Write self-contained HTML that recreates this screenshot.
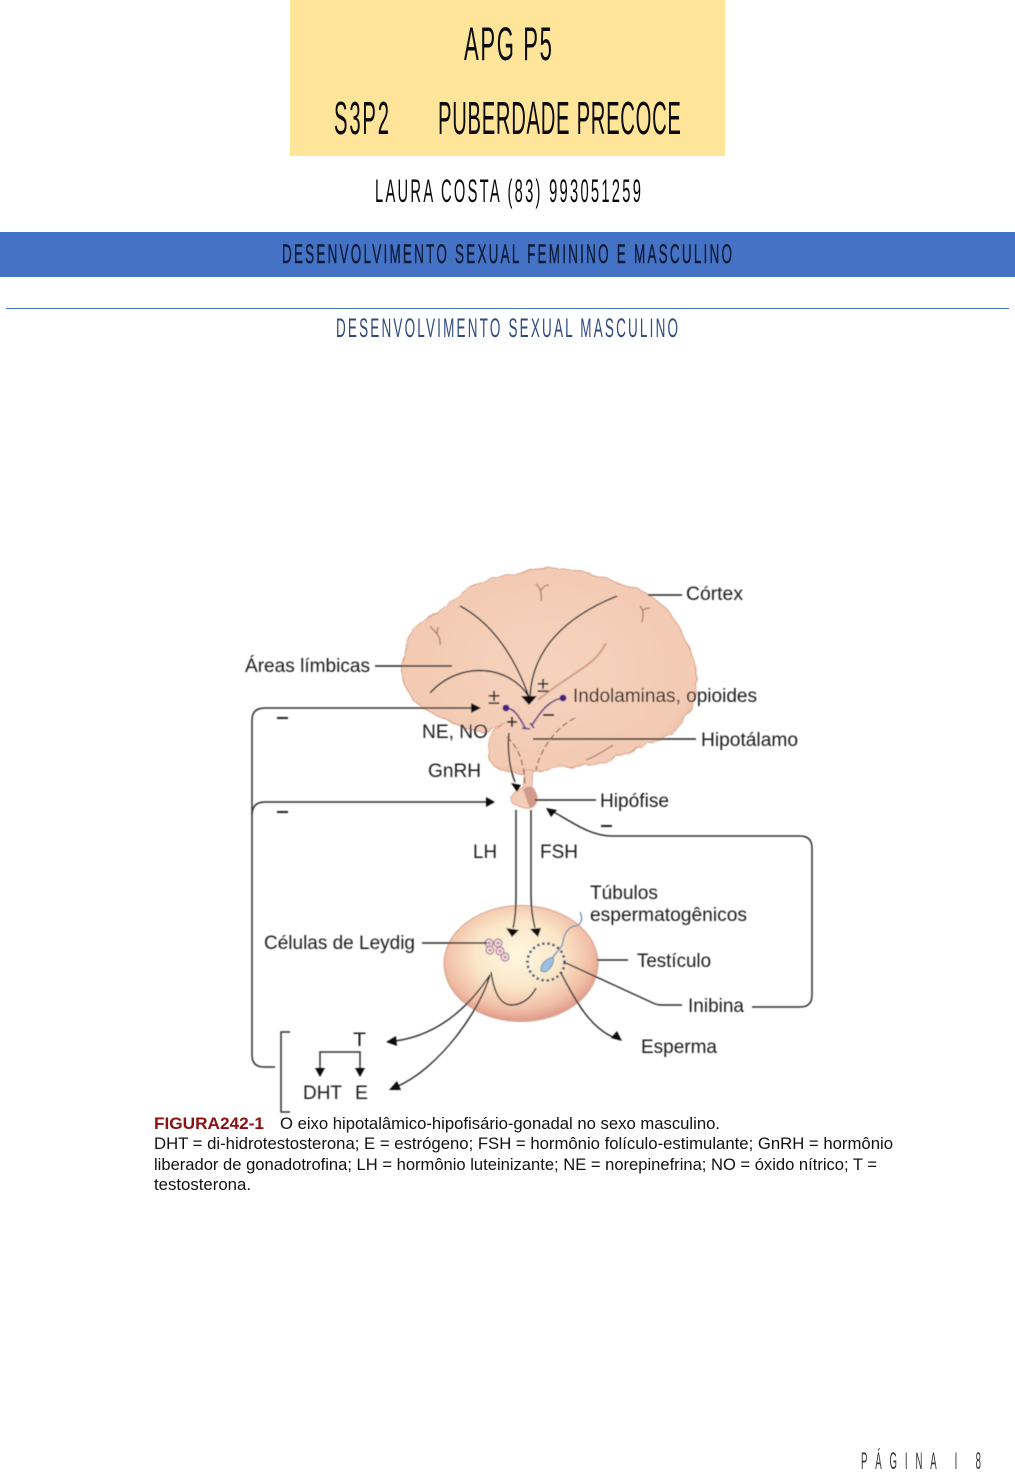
<!DOCTYPE html>
<html><head><meta charset="utf-8"><style>
html,body{margin:0;padding:0;background:#fff}
svg{display:block}
.h{font-family:"Liberation Sans",sans-serif}
.d{font-family:"Liberation Sans",sans-serif;font-size:19px;fill:#1f1f1f}
.c{font-family:"Liberation Sans",sans-serif;font-size:17px;fill:#111}
</style></head><body>
<svg width="1015" height="1474" viewBox="0 0 1015 1474" xmlns="http://www.w3.org/2000/svg">
<defs>
<radialGradient id="br" cx="50%" cy="48%" r="60%"><stop offset="0" stop-color="#f5d3bd"/><stop offset=".82" stop-color="#f3cab3"/><stop offset="1" stop-color="#e3ad96"/></radialGradient>
<radialGradient id="ts" cx="48%" cy="42%" r="56%"><stop offset="0" stop-color="#fff8e0"/><stop offset=".5" stop-color="#fbe6c9"/><stop offset=".85" stop-color="#f0bfa6"/><stop offset="1" stop-color="#e2a08f"/></radialGradient>
<filter id="b"><feGaussianBlur stdDeviation="0.4"/></filter>
<filter id="w" x="-5%" y="-5%" width="110%" height="110%"><feTurbulence type="fractalNoise" baseFrequency="0.09" numOctaves="2" seed="4" result="n"/><feDisplacementMap in="SourceGraphic" in2="n" scale="6"/></filter>
</defs>

<rect x="290" y="0" width="435" height="156" fill="#ffe599"/>
<g class="h" fill="#0b0b0b">
<text transform="translate(464,60) scale(.47,1)" font-size="47" textLength="187" lengthAdjust="spacing">APG P5</text>
<text transform="translate(334,134) scale(.44,1)" font-size="46" textLength="125" lengthAdjust="spacing">S3P2</text>
<text transform="translate(438,134) scale(.44,1)" font-size="46" textLength="552" lengthAdjust="spacing">PUBERDADE PRECOCE</text>
<text transform="translate(375,202) scale(.46,1)" font-size="32" textLength="578" lengthAdjust="spacing">LAURA COSTA (83) 993051259</text>
</g>
<rect x="0" y="232" width="1015" height="45" fill="#4472c4"/>
<text class="h" transform="translate(282,263) scale(.5,1)" font-size="27" fill="#0c1a38" stroke="#0c1a38" stroke-width=".4" textLength="900" lengthAdjust="spacing">DESENVOLVIMENTO SEXUAL FEMININO E MASCULINO</text>
<rect x="6" y="308" width="1003" height="1" fill="#4472c4"/>
<text class="h" transform="translate(336,337) scale(.5,1)" font-size="27" fill="#2f4a80" textLength="684" lengthAdjust="spacing">DESENVOLVIMENTO SEXUAL MASCULINO</text>

<g filter="url(#b)">
<!-- brain -->
<path filter="url(#w)" d="M402 673 C400 660 404 653 406 647 C408 640 410 635 413 630 C420 625 424 620 430 617 C438 612 444 606 451 602 C458 596 464 591 471 587 C482 582 494 578 506 575 C520 571 534 569 547 568 C560 568 571 569 582 572 C594 575 605 578 616 582 C627 585 638 589 647 593 C655 600 662 604 668 610 C674 618 678 625 682 633 C687 642 691 651 694 660 C696 668 697 676 697 683 C696 694 693 704 689 713 C684 721 678 728 671 733 C661 739 651 743 640 747 C631 751 622 755 613 758 C605 761 597 763 589 765 C579 767 568 766 558 767 C549 769 541 771 533 773 L525 775 L513 773 C506 772 500 770 495 767 C490 762 488 756 488 750 C488 745 490 739 492 735 C496 731 500 726 506 723 L489 732 C480 733 472 730 464 727 C453 723 443 718 433 713 C425 710 419 705 413 700 C408 692 404 682 402 673Z" fill="url(#br)" stroke="#d8a088" stroke-width="1"/>
<path d="M525 770 L523 787 C519 789 514 792 511 797 C510 800 512 804 516 805 C520 807 525 809 530 808 C533 808 536 805 537 800 C538 796 536 792 532 787 L533 770Z" fill="#f3cdb7" stroke="#d8a088" stroke-width=".8"/>
<path d="M523 790 C526 795 527 803 530 808 C534 806 537 803 537 799 C537 794 535 789 532 787 C528 786 525 787 523 790Z" fill="#d29a8c"/>
<!-- sulci -->
<g fill="none" stroke="#a87c68" stroke-width="1.3">
<path d="M536 584 C541 588 542 594 541 601 M541 590 C544 586 546 585 549 585 M640 606 C643 609 644 614 642 622 M642 611 C645 608 648 608 650 608"/>
<path d="M430 626 C436 633 441 636 440 645 M437 634 L438 627"/>
</g>
<path d="M606 643 C600 655 592 662 580 670 C566 680 552 688 538 700" fill="none" stroke="#d3a088" stroke-width="2"/>
<path d="M613 745 C604 751 596 756 586 760" fill="none" stroke="#b98b74" stroke-width="1.4"/>

<!-- inner curves -->
<g fill="none" stroke="#222" stroke-width="1.4">
<path d="M460 606 Q505 630 529 697"/>
<path d="M617 596 Q533 630 530 697"/>
<path d="M430 693 C460 660 510 665 529 697"/>
<path d="M375 666 H452"/>
<path d="M648 595 H682"/>
<path d="M533 739 H696"/>
<path d="M535 800 H596"/>
<path d="M509 733 C507 750 510 770 515 782"/>
</g>
<path d="M521 696 L537 696 L529 705Z" fill="#111"/>
<path d="M511 783 L521 785 L517 792 Z" fill="#111"/>
<g fill="none" stroke="#8d6b5c" stroke-width="1.2" stroke-dasharray="6 3">
<path d="M507 737 C516 745 524 758 525 785"/>
<path d="M575 718 C555 728 540 750 536 770"/>
</g>
<!-- purple -->
<g fill="none" stroke="#5d3a86" stroke-width="1.6">
<path d="M506 708 C517 709 520 720 526 729"/>
<path d="M563 698 C548 700 540 713 532 725"/>
<path d="M522 728 L530 729 M530 723 L534 728"/>
</g>
<circle cx="506" cy="708" r="3.4" fill="#46237c"/><circle cx="563" cy="698" r="3.4" fill="#46237c"/>

<!-- signs -->
<g fill="#222">
<text x="488" y="704" font-family="Liberation Sans,sans-serif" font-size="22">±</text>
<text x="537" y="692" font-family="Liberation Sans,sans-serif" font-size="22">±</text>
<rect x="543" y="714" width="11" height="2"/>
<rect x="277" y="717" width="11" height="2"/>
<rect x="277" y="811" width="11" height="2"/>
<rect x="601" y="825" width="11" height="2"/>
<rect x="507" y="721" width="10" height="1.8"/><rect x="511" y="717" width="1.8" height="10"/>
</g>

<!-- testis -->
<ellipse cx="521" cy="963.5" rx="77" ry="58" fill="url(#ts)" stroke="#d99d8a" stroke-width="1"/>

<!-- feedback -->
<g fill="none" stroke="#333" stroke-width="1.5">
<path d="M275 1067 H264 Q252 1067 252 1055 V720 Q252 708 265 708 H472"/>
<path d="M252 815 Q252 802 265 802 H487"/>
<path d="M290 1032 H281 V1112 H290"/>
<path d="M320 1071 V1052 H360 V1071"/>
<path d="M752 1007 H800 Q812 1007 812 995 V848 Q812 836 800 836 H612 C590 836 572 822 552 811"/>
<path d="M516 810 V895 C516 910 515 920 513 928"/>
<path d="M531 810 V895 C531 910 533 920 535 928"/>
</g>
<g fill="#111">
<path d="M481 708 L471 703 L471 713Z"/>
<path d="M495 802 L486 797 L486 807Z"/>
<path d="M546 808 L557 810 L551 817Z"/>
<path d="M320 1077 L315 1068 L325 1068Z"/>
<path d="M360 1077 L355 1068 L365 1068Z"/>
<path d="M512 937 L506 928 L519 930Z"/>
<path d="M538 937 L530 929 L541 928Z"/>
</g>

<g fill="#f4dcd8" stroke="#a97fa0" stroke-width="1.2">
<circle cx="489" cy="943" r="4"/><circle cx="498" cy="943" r="4"/><circle cx="490" cy="950" r="4"/><circle cx="500" cy="951" r="4"/><circle cx="505" cy="957" r="4"/>
</g>
<g fill="#a97fa0"><circle cx="489" cy="943" r="1.3"/><circle cx="498" cy="943" r="1.3"/><circle cx="490" cy="950" r="1.3"/><circle cx="500" cy="951" r="1.3"/><circle cx="505" cy="957" r="1.3"/></g>
<circle cx="546" cy="962" r="18.5" fill="none" stroke="#3d5a78" stroke-width="2.6" stroke-dasharray="2.4 2.8"/>
<path d="M541 971 C540 964 546 959 553 957 C555 962 551 969 545 972Z" fill="#9dbfe0" stroke="#6d93bd" stroke-width="1"/>
<path d="M553 957 C558 950 562 948 563 942 C564 934 568 927 575 926 C582 925 583 918 580 912" fill="none" stroke="#6d93b5" stroke-width="1.3"/>

<g fill="none" stroke="#2a2a2a" stroke-width="1.4">
<path d="M422 943 H487"/>
<path d="M597 960 H628"/>
<path d="M566 963 L653 1003 Q657 1005 662 1005 H682"/>
<path d="M491 972 C493 985 497 1004 511 1005 C522 1005 531 998 536 988"/>
<path d="M490 975 C470 1005 440 1035 395 1041"/>
<path d="M490 975 C480 1010 440 1068 396 1087"/>
<path d="M561 973 C575 1000 590 1028 615 1038"/>
</g>
<g fill="#111">
<path d="M386 1042 L396 1036 L397 1046Z"/>
<path d="M389 1090 L397 1081 L401 1090Z"/>
<path d="M622 1041 L611 1038 L617 1031Z"/>
</g>

<!-- labels -->
<text class="d" x="686" y="600" textLength="57" lengthAdjust="spacingAndGlyphs">Córtex</text>
<text class="d" x="245" y="672" textLength="125" lengthAdjust="spacingAndGlyphs">Áreas límbicas</text>
<text class="d" x="573" y="702" textLength="184" lengthAdjust="spacingAndGlyphs">Indolaminas, opioides</text>
<text class="d" x="422" y="738" textLength="66" lengthAdjust="spacingAndGlyphs">NE, NO</text>
<text class="d" x="701" y="746" textLength="97" lengthAdjust="spacingAndGlyphs">Hipotálamo</text>
<text class="d" x="428" y="777" textLength="53" lengthAdjust="spacingAndGlyphs">GnRH</text>
<text class="d" x="600" y="807" textLength="69" lengthAdjust="spacingAndGlyphs">Hipófise</text>
<text class="d" x="473" y="858" textLength="24" lengthAdjust="spacingAndGlyphs">LH</text>
<text class="d" x="540" y="858" textLength="38" lengthAdjust="spacingAndGlyphs">FSH</text>
<text class="d" x="590" y="899" textLength="68" lengthAdjust="spacingAndGlyphs">Túbulos</text>
<text class="d" x="590" y="921" textLength="157" lengthAdjust="spacingAndGlyphs">espermatogênicos</text>
<text class="d" x="264" y="949" textLength="151" lengthAdjust="spacingAndGlyphs">Células de Leydig</text>
<text class="d" x="637" y="967" textLength="74" lengthAdjust="spacingAndGlyphs">Testículo</text>
<text class="d" x="688" y="1012" textLength="56" lengthAdjust="spacingAndGlyphs">Inibina</text>
<text class="d" x="641" y="1053" textLength="76" lengthAdjust="spacingAndGlyphs">Esperma</text>
<text class="d" x="353" y="1046" textLength="13" lengthAdjust="spacingAndGlyphs">T</text>
<text class="d" x="303" y="1099" textLength="39" lengthAdjust="spacingAndGlyphs">DHT</text>
<text class="d" x="355" y="1099" textLength="13" lengthAdjust="spacingAndGlyphs">E</text>
</g>

<!-- caption -->
<g style="filter:blur(.25px)">
<text class="c" x="154" y="1129" font-weight="bold" style="fill:#8b1010" textLength="110" lengthAdjust="spacingAndGlyphs">FIGURA242-1</text>
<text class="c" x="280" y="1129" textLength="440" lengthAdjust="spacingAndGlyphs">O eixo hipotalâmico-hipofisário-gonadal no sexo masculino.</text>
<text class="c" x="154" y="1149" textLength="739" lengthAdjust="spacingAndGlyphs">DHT = di-hidrotestosterona; E = estrógeno; FSH = hormônio folículo-estimulante; GnRH = hormônio</text>
<text class="c" x="154" y="1170" textLength="723" lengthAdjust="spacingAndGlyphs">liberador de gonadotrofina; LH = hormônio luteinizante; NE = norepinefrina; NO = óxido nítrico; T =</text>
<text class="c" x="154" y="1190" textLength="97" lengthAdjust="spacingAndGlyphs">testosterona.</text>
</g>

<text class="h" transform="translate(861,1469) scale(.4,1)" font-size="24" fill="#333" textLength="300" lengthAdjust="spacing">PÁGINA I 8</text>
</svg>
</body></html>
